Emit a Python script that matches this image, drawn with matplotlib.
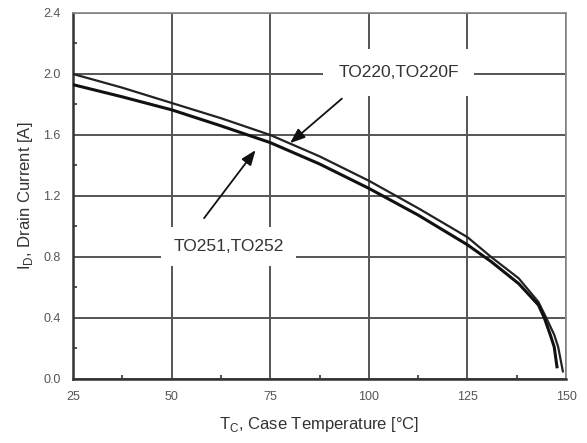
import numpy as np
import matplotlib.pyplot as plt
from matplotlib.ticker import MultipleLocator

plt.rcParams['font.family'] = ['Liberation Sans', 'DejaVu Sans']

# 最大ドレイン電流 vs ケース温度（パッケージ別）
temp_to220 = [25, 37.5, 50, 62.5, 75, 87.5, 100, 112.5, 125, 131, 138, 143, 145, 147, 148, 149.2]
id_to220 = [2.00, 1.91, 1.81, 1.71, 1.60, 1.46, 1.30, 1.12, 0.93, 0.80, 0.66, 0.505, 0.40, 0.29, 0.21, 0.05]

temp_to251 = [25, 37.5, 50, 62.5, 75, 87.5, 100, 112.5, 125, 131, 138, 143, 144.5, 146, 147, 147.7]
id_to251 = [1.93, 1.85, 1.765, 1.66, 1.55, 1.41, 1.25, 1.075, 0.88, 0.77, 0.625, 0.485, 0.40, 0.29, 0.21, 0.08]

xticks = [25, 50, 75, 100, 125, 150]
yticks = [0.0, 0.4, 0.8, 1.2, 1.6, 2.0, 2.4]

fig = plt.figure(figsize=(5.87, 4.43), dpi=100)
ax = fig.add_axes([0.1244, 0.1445, 0.8399, 0.8262])

ax.plot(temp_to220, id_to220, color='#222222', lw=1.6, zorder=3)
ax.plot(temp_to251, id_to251, color='#111111', lw=2.2, zorder=3)

ax.set_xlim(25, 150)
ax.set_ylim(0.0, 2.4)
ax.set_xticks(xticks)
ax.set_yticks(yticks)
ax.set_xticklabels([str(t) for t in xticks])
ax.set_yticklabels(['%.1f' % v for v in yticks])
ax.xaxis.set_minor_locator(MultipleLocator(12.5))
ax.yaxis.set_minor_locator(MultipleLocator(0.2))
ax.tick_params(which='major', length=0, pad=9, labelsize=9, labelcolor='#555555')
ax.tick_params(which='minor', direction='in', length=3, width=1.2, color='#333333')
ax.grid(True, which='major', color='#555555', lw=1.4)

for s in ['left', 'bottom']:
    ax.spines[s].set_color('#333333')
    ax.spines[s].set_linewidth(1.8)
for s in ['top', 'right']:
    ax.spines[s].set_color('#888888')
    ax.spines[s].set_linewidth(1.2)

ax.set_xlabel('T$_\\mathregular{C}$, Case Temperature [°C]', fontsize=12, color='#333333', labelpad=8)
ax.set_ylabel('I$_\\mathregular{D}$, Drain Current [A]', fontsize=12, color='#333333', labelpad=6)

# 注記と矢印
ax.text(107.5, 2.01, 'TO220,TO220F', fontsize=12.5, color='#333333', ha='center', va='center', zorder=4,
        bbox=dict(boxstyle='square,pad=0.9', fc='white', ec='none'))
ax.annotate('', xy=(79.5, 1.535), xytext=(93.7, 1.85), zorder=5,
            arrowprops=dict(arrowstyle='-|>,head_length=0.9,head_width=0.35', color='#111111', lw=1.3))

ax.text(64.5, 0.87, 'TO251,TO252', fontsize=12.5, color='#333333', ha='center', va='center', zorder=4,
        bbox=dict(boxstyle='square,pad=0.7', fc='white', ec='none'))
ax.annotate('', xy=(71.7, 1.515), xytext=(57.8, 1.04), zorder=5,
            arrowprops=dict(arrowstyle='-|>,head_length=0.9,head_width=0.35', color='#111111', lw=1.3))

fig.savefig('out.png', dpi=100)
